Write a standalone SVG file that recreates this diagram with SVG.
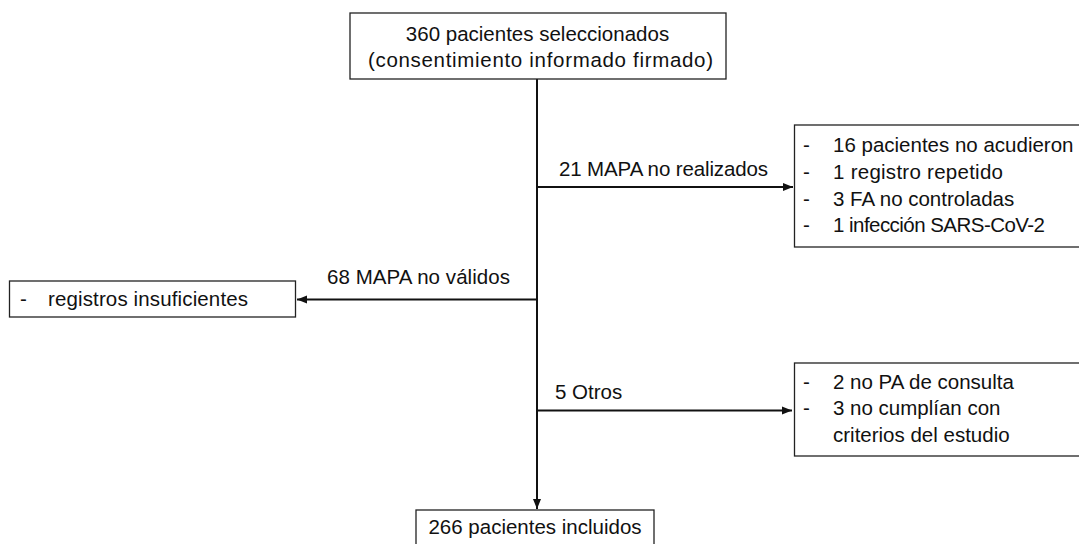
<svg xmlns="http://www.w3.org/2000/svg" width="1079" height="544" viewBox="0 0 1079 544">
<style>
.box{fill:#fff;stroke:#222;stroke-width:1.3}
.t{font-family:"Liberation Sans",Arial,sans-serif;font-size:20.5px;fill:#111}
.c{stroke:#111;stroke-width:2;fill:none}
</style>
<defs>
<marker id="ah" viewBox="0 0 10 10" refX="10" refY="5" markerWidth="5" markerHeight="5" markerUnits="strokeWidth" orient="auto">
<path d="M0,1 L10,5 L0,9 z" fill="#111"/>
</marker>
</defs>
<rect width="1079" height="544" fill="#fff"/>
<g id="connectors">
<line class="c" x1="537" y1="79" x2="537" y2="509" marker-end="url(#ah)"/>
<line class="c" x1="537" y1="187" x2="793" y2="187" marker-end="url(#ah)"/>
<line class="c" x1="537" y1="299.5" x2="297" y2="299.5" marker-end="url(#ah)"/>
<line class="c" x1="537" y1="410.5" x2="792" y2="410.5" marker-end="url(#ah)"/>
<text class="t" x="559" y="176" textLength="209">21 MAPA no realizados</text>
<text class="t" x="327" y="284" textLength="183">68 MAPA no válidos</text>
<text class="t" x="555" y="399">5 Otros</text>
</g>
<g id="n-top">
<rect class="box" x="350" y="13" width="376" height="66"/>
<text class="t" x="537.5" y="41" text-anchor="middle">360 pacientes seleccionados</text>
<text class="t" x="368" y="67" textLength="345">(consentimiento informado firmado)</text>
</g>
<g id="n-norealizados">
<rect class="box" x="794.5" y="125" width="300" height="122"/>
<text class="t" x="803" y="152">-</text><text class="t" x="833" y="152">16 pacientes no acudieron</text>
<text class="t" x="803" y="179">-</text><text class="t" x="833" y="179" textLength="170">1 registro repetido</text>
<text class="t" x="803" y="205.5">-</text><text class="t" x="833" y="205.5">3 FA no controladas</text>
<text class="t" x="803" y="232">-</text><text class="t" x="833" y="232" textLength="212">1 infección SARS-CoV-2</text>
</g>
<g id="n-novalidos">
<rect class="box" x="9.5" y="281" width="286" height="36"/>
<text class="t" x="20" y="306">-</text><text class="t" x="48" y="306" textLength="200">registros insuficientes</text>
</g>
<g id="n-otros">
<rect class="box" x="794.5" y="363" width="300" height="93"/>
<text class="t" x="803" y="388.5">-</text><text class="t" x="833" y="388.5">2 no PA de consulta</text>
<text class="t" x="803" y="415">-</text><text class="t" x="833" y="415">3 no cumplían con</text>
<text class="t" x="833" y="441.5">criterios del estudio</text>
</g>
<g id="n-incluidos">
<rect class="box" x="416" y="510" width="238" height="40"/>
<text class="t" x="535" y="534" text-anchor="middle">266 pacientes incluidos</text>
</g>
</svg>
